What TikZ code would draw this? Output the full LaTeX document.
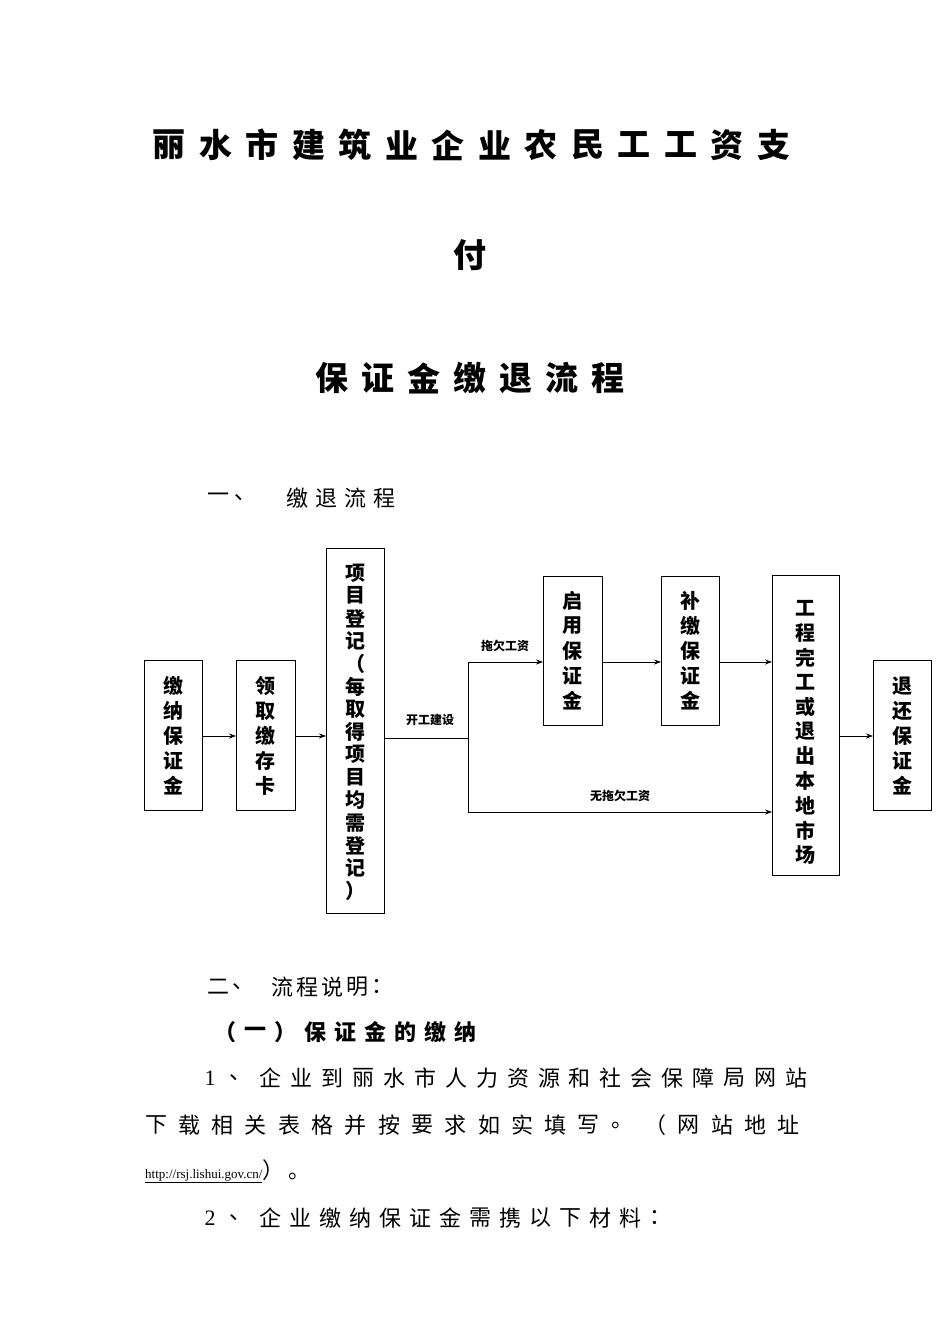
\documentclass[tikz,border=0pt]{standalone}
\usepackage{fontspec}
\newfontfamily\cjk{Noto Sans CJK SC}
\setmainfont{Liberation Serif}
\usetikzlibrary{arrows.meta}
\tikzset{x=1pt,y=-1pt,
 bx/.style={draw,line width=0.9pt},
 ar/.style={line width=0.8pt,-{Stealth[length=7pt,width=5pt]}},
 ln/.style={line width=0.8pt},
 ch/.style={inner sep=0pt,font=\cjk\bfseries\fontsize{20}{20}\selectfont},
 lb/.style={inner sep=1pt,font=\cjk\bfseries\fontsize{12}{12}\selectfont}}
\newcommand\vtxt[4]{\foreach \c [count=\i from 0] in {#4}{\node[ch] at (#1,#2+\i*#3) {\c};}}
\newcommand\htxt[5]{\foreach \c [count=\i from 0] in {#5}{\node[inner sep=0pt,font=#4] at (#1+\i*#3,#2) {\c};}}
\begin{document}
\begin{tikzpicture}
\useasboundingbox (0,0) rectangle (950,1344);
% titles
\htxt{169}{145}{46.5}{\cjk\bfseries\fontsize{33}{33}\selectfont}{丽,水,市,建,筑,业,企,业,农,民,工,工,资,支}
\node[inner sep=0pt,font=\cjk\bfseries\fontsize{33}{33}\selectfont] (t2) at (470,255) {付};
\htxt{332}{378}{46}{\cjk\bfseries\fontsize{33}{33}\selectfont}{保,证,金,缴,退,流,程}
\htxt{218}{498}{27}{\cjk\fontsize{22}{22}\selectfont}{一,、}
\htxt{297}{498}{29}{\cjk\fontsize{22}{22}\selectfont}{缴,退,流,程}
% boxes
\draw[bx] (144,660) rectangle (202,810) coordinate (b1e);
\node[inner sep=0pt] (b1) at (173,735) {};
\vtxt{173}{686}{25}{缴,纳,保,证,金}
\draw[bx] (236,660) rectangle (295,810);
\vtxt{265.5}{686}{25}{领,取,缴,存,卡}
\draw[bx] (326,548) rectangle (384,913);
\vtxt{355}{573}{22.7}{项,目,登,记,（,每,取,得,项,目,均,需,登,记,）}
\draw[bx] (543,576) rectangle (602,725);
\vtxt{572.5}{601}{25}{启,用,保,证,金}
\draw[bx] (661,576) rectangle (719,725);
\vtxt{690}{601}{25}{补,缴,保,证,金}
\draw[bx] (772,575) rectangle (839,875);
\vtxt{805.5}{608}{24.7}{工,程,完,工,或,退,出,本,地,市,场}
\draw[bx] (873,660) rectangle (931,810);
\vtxt{902}{686}{25}{退,还,保,证,金}
% connectors
\coordinate (s1) at (202,736); \coordinate (e1) at (236,736);
\coordinate (s2) at (295,736); \coordinate (e2) at (326,736);
\coordinate (s3) at (384,738); \coordinate (j) at (468,738);
\coordinate (jt) at (468,662); \coordinate (jb) at (468,812);
\coordinate (e4) at (543,662); \coordinate (e5) at (772,812);
\coordinate (s6) at (602,662); \coordinate (e6) at (661,662);
\coordinate (s7) at (719,662); \coordinate (e7) at (772,662);
\coordinate (s8) at (839,736); \coordinate (e8) at (873,736);
\draw[ar] (s1) -- (e1);
\draw[ar] (s2) -- (e2);
\draw[ln] (s3) -- (j);
\draw[ln] (jt) -- (jb);
\draw[ar] (jt) -- (e4);
\draw[ar] (jb) -- (e5);
\draw[ar] (s6) -- (e6);
\draw[ar] (s7) -- (e7);
\draw[ar] (s8) -- (e8);
\node[lb] (l1) at (430,720) {开工建设};
\node[lb] (l2) at (505,646) {拖欠工资};
\node[lb] (l3) at (620,796) {无拖欠工资};
% text below
\htxt{218}{987}{25}{\cjk\fontsize{22}{22}\selectfont}{二,、}
\htxt{282}{987}{25}{\cjk\fontsize{22}{22}\selectfont}{流,程,说,明,：}
\htxt{225}{1032}{30}{\cjk\bfseries\fontsize{22}{22}\selectfont}{（,一,）,保,证,金,的,缴,纳}
\htxt{210}{1078}{0}{\fontsize{22}{22}\selectfont}{1}
\htxt{240}{1078}{30.9}{\cjk\fontsize{22}{22}\selectfont}{、,企,业,到,丽,水,市,人,力,资,源,和,社,会,保,障,局,网,站}
\htxt{156}{1125}{33.3}{\cjk\fontsize{22}{22}\selectfont}{下,载,相,关,表,格,并,按,要,求,如,实,填,写,。,（,网,站,地,址}
\node[anchor=base west,inner sep=0pt,font=\fontsize{13}{13}\selectfont] (url) at (145,1178) {\underline{http://rsj.lishui.gov.cn/}};
\node[anchor=base west,inner sep=0pt,font=\cjk\fontsize{22}{22}\selectfont] (u2) at (url.base east) {）\hspace{4pt}。};
\htxt{210}{1218}{0}{\fontsize{22}{22}\selectfont}{2}
\htxt{240}{1218}{30}{\cjk\fontsize{22}{22}\selectfont}{、,企,业,缴,纳,保,证,金,需,携,以,下,材,料,：}
\end{tikzpicture}
\end{document}
